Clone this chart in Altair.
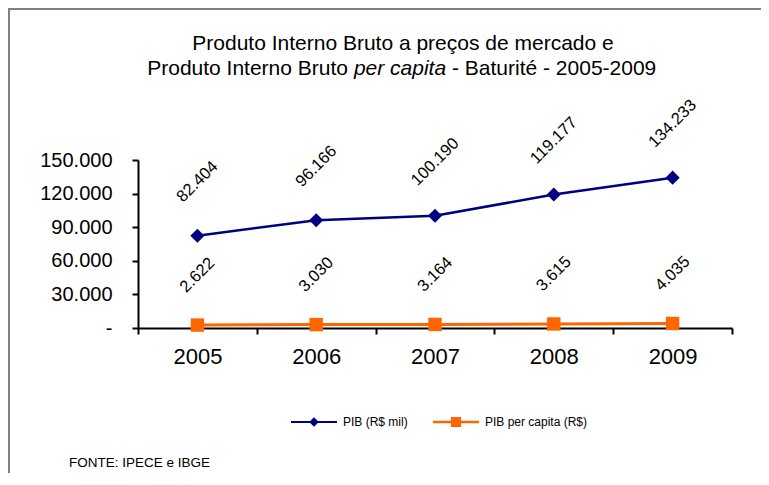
import altair as alt
import pandas as pd

anos = ["2005", "2006", "2007", "2008", "2009"]
pib = [82404, 96166, 100190, 119177, 134233]
pib_pc = [2622, 3030, 3164, 3615, 4035]
series = ["PIB (R$ mil)", "PIB per capita (R$)"]
colors = ["#000080", "#FF6600"]
y_ticks = [0, 30000, 60000, 90000, 120000, 150000]

legend_paths = [
    "M-1,-0.045H1V0.045H-1Z M0,-0.21L0.21,0L0,0.21L-0.21,0Z",
    "M-1,-0.05H1V0.05H-1Z M-0.22,-0.22H0.22V0.22H-0.22Z",
]

df = pd.DataFrame({
    "ano": anos * 2,
    "valor": pib + pib_pc,
    "serie": [series[0]] * len(anos) + [series[1]] * len(anos),
})

FONT = "Liberation Sans"

x_enc = alt.X(
    "ano:O",
    sort=anos,
    scale=alt.Scale(type="band", paddingInner=0, paddingOuter=0),
    axis=alt.Axis(title=None, labelAngle=0, tickBand="extent", labelFontSize=22,
                  tickSize=6, labelPadding=12, domainWidth=2, tickWidth=2,
                  grid=False),
)
y_enc = alt.Y(
    "valor:Q",
    scale=alt.Scale(domain=[0, 150000], nice=False),
    axis=alt.Axis(title=None, values=y_ticks, labelFontSize=20, tickSize=6,
                  labelPadding=20, domainWidth=2, tickWidth=2, grid=False,
                  labelExpr="datum.value == 0 ? '-\u00a0\u00a0' : replace(format(datum.value, ','), ',', '.')"),
)

base = alt.Chart(df).transform_calculate(
    rotulo="replace(format(datum.valor, ','), ',', '.')"
)

f0 = alt.datum.serie == series[0]
f1 = alt.datum.serie == series[1]

line0 = base.transform_filter(f0).mark_line(color=colors[0], strokeWidth=2.5).encode(x=x_enc, y=y_enc)
line1 = base.transform_filter(f1).mark_line(color=colors[1], strokeWidth=3).encode(x=x_enc, y=y_enc)
pts0 = base.transform_filter(f0).mark_point(shape="diamond", filled=True, size=200,
                                            color=colors[0], opacity=1).encode(x=x_enc, y=y_enc)
pts1 = base.transform_filter(f1).mark_point(shape="square", filled=True, size=180,
                                            color=colors[1], opacity=1).encode(x=x_enc, y=y_enc)
lab0 = base.transform_filter(f0).mark_text(angle=315, fontSize=16.5, font=FONT, color="black",
                                           align="center", baseline="middle", yOffset=-54).encode(
    x=x_enc, y=y_enc, text="rotulo:N")
lab1 = base.transform_filter(f1).mark_text(angle=315, fontSize=16.5, font=FONT, color="black",
                                           align="center", baseline="middle", yOffset=-50).encode(
    x=x_enc, y=y_enc, text="rotulo:N")

legend_layer = base.transform_filter("false").mark_point(filled=True, opacity=1).encode(
    x=x_enc, y=y_enc,
    color=alt.Color("serie:N", scale=alt.Scale(domain=series, range=colors),
                    legend=alt.Legend(title=None)),
    shape=alt.Shape("serie:N", scale=alt.Scale(domain=series, range=legend_paths),
                    legend=alt.Legend(title=None)),
)

one = pd.DataFrame({"a": [0]})

frame = alt.Chart(one).mark_rect(fillOpacity=0, stroke="#808080", strokeWidth=2).encode(
    x=alt.value(-129), y=alt.value(-151), x2=alt.value(900), y2=alt.value(600))

def txt(t, x, y, size=21, align="center", style="normal"):
    return alt.Chart(one).mark_text(text=t, fontSize=size, font=FONT, color="black",
                                    align=align, baseline="alphabetic",
                                    fontStyle=style).encode(x=alt.value(x), y=alt.value(y))

t1 = txt("Produto Interno Bruto a preços de mercado  e", 265, -110)
t2a = txt("Produto Interno Bruto", 210, -85, align="right")
t2b = txt("per capita", 262, -85, style="italic")
t2c = txt("- Baturité - 2005-2009", 314, -85, align="left")
fonte = txt("FONTE: IPECE e IBGE", -69, 307, size=13.5, align="left")

chart = alt.layer(
    frame, line0, line1, pts0, pts1, lab0, lab1, legend_layer, t1, t2a, t2b, t2c, fonte
).properties(
    width=594, height=168,
    autosize=alt.AutoSizeParams(type="none"),
    padding={"left": 130, "top": 152, "right": 29, "bottom": 145},
).configure_view(stroke=None).configure_axis(
    domainColor="black", tickColor="black", labelColor="black", labelFont=FONT,
).configure_legend(
    orient="none", legendX=153, legendY=239, direction="horizontal",
    symbolSize=2116, symbolStrokeWidth=0, symbolOpacity=1, labelFont=FONT, labelFontSize=12,
    labelColor="black", labelOffset=6, columnPadding=25,
)

chart.save("out.html", embed_options={"renderer": "svg", "actions": False})
